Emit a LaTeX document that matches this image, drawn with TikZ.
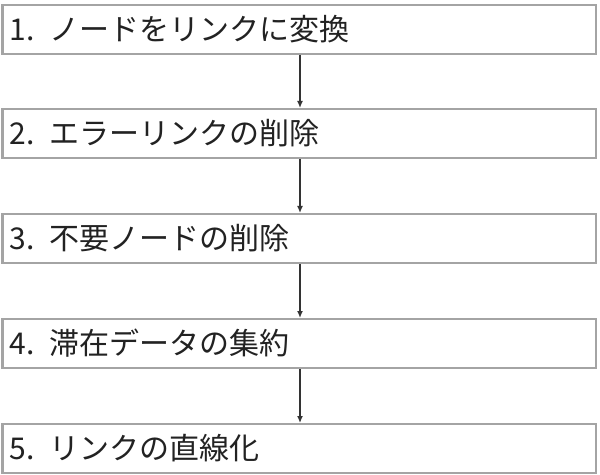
\documentclass[tikz,border=0pt]{standalone}
\usepackage{fontspec}
\setmainfont{Noto Sans CJK JP}
\usetikzlibrary{arrows.meta}
\definecolor{boxline}{HTML}{A4A4A4}
\definecolor{txt}{HTML}{222222}
\definecolor{arr}{HTML}{333333}
\begin{document}
\begin{tikzpicture}[x=1bp,y=-1bp,
  stepbox/.style={draw=boxline, line width=2bp, fill=white, rectangle,
    minimum height=49bp, text width=579bp, inner xsep=7bp, inner ysep=0bp,
    align=left, anchor=north west, text=txt,
    font=\fontsize{30bp}{32bp}\selectfont},
  flow/.style={draw=arr, line width=1.3bp, -{Latex[length=7bp,width=6bp]}}]
\useasboundingbox (0,0) rectangle (600,475);
\node[stepbox] (s1) at (1.5,4) {1. ノードをリンクに変換};
\node[stepbox] (s2) at (1.5,108) {2. エラーリンクの削除};
\node[stepbox] (s3) at (1.5,213) {3. 不要ノードの削除};
\node[stepbox] (s4) at (1.5,318) {4. 滞在データの集約};
\node[stepbox] (s5) at (1.5,423) {5. リンクの直線化};
\draw[flow] (s1.south -| 300,0) -- (s2.north -| 300,0);
\draw[flow] (s2.south -| 300,0) -- (s3.north -| 300,0);
\draw[flow] (s3.south -| 300,0) -- (s4.north -| 300,0);
\draw[flow] (s4.south -| 300,0) -- (s5.north -| 300,0);
\end{tikzpicture}
\end{document}
